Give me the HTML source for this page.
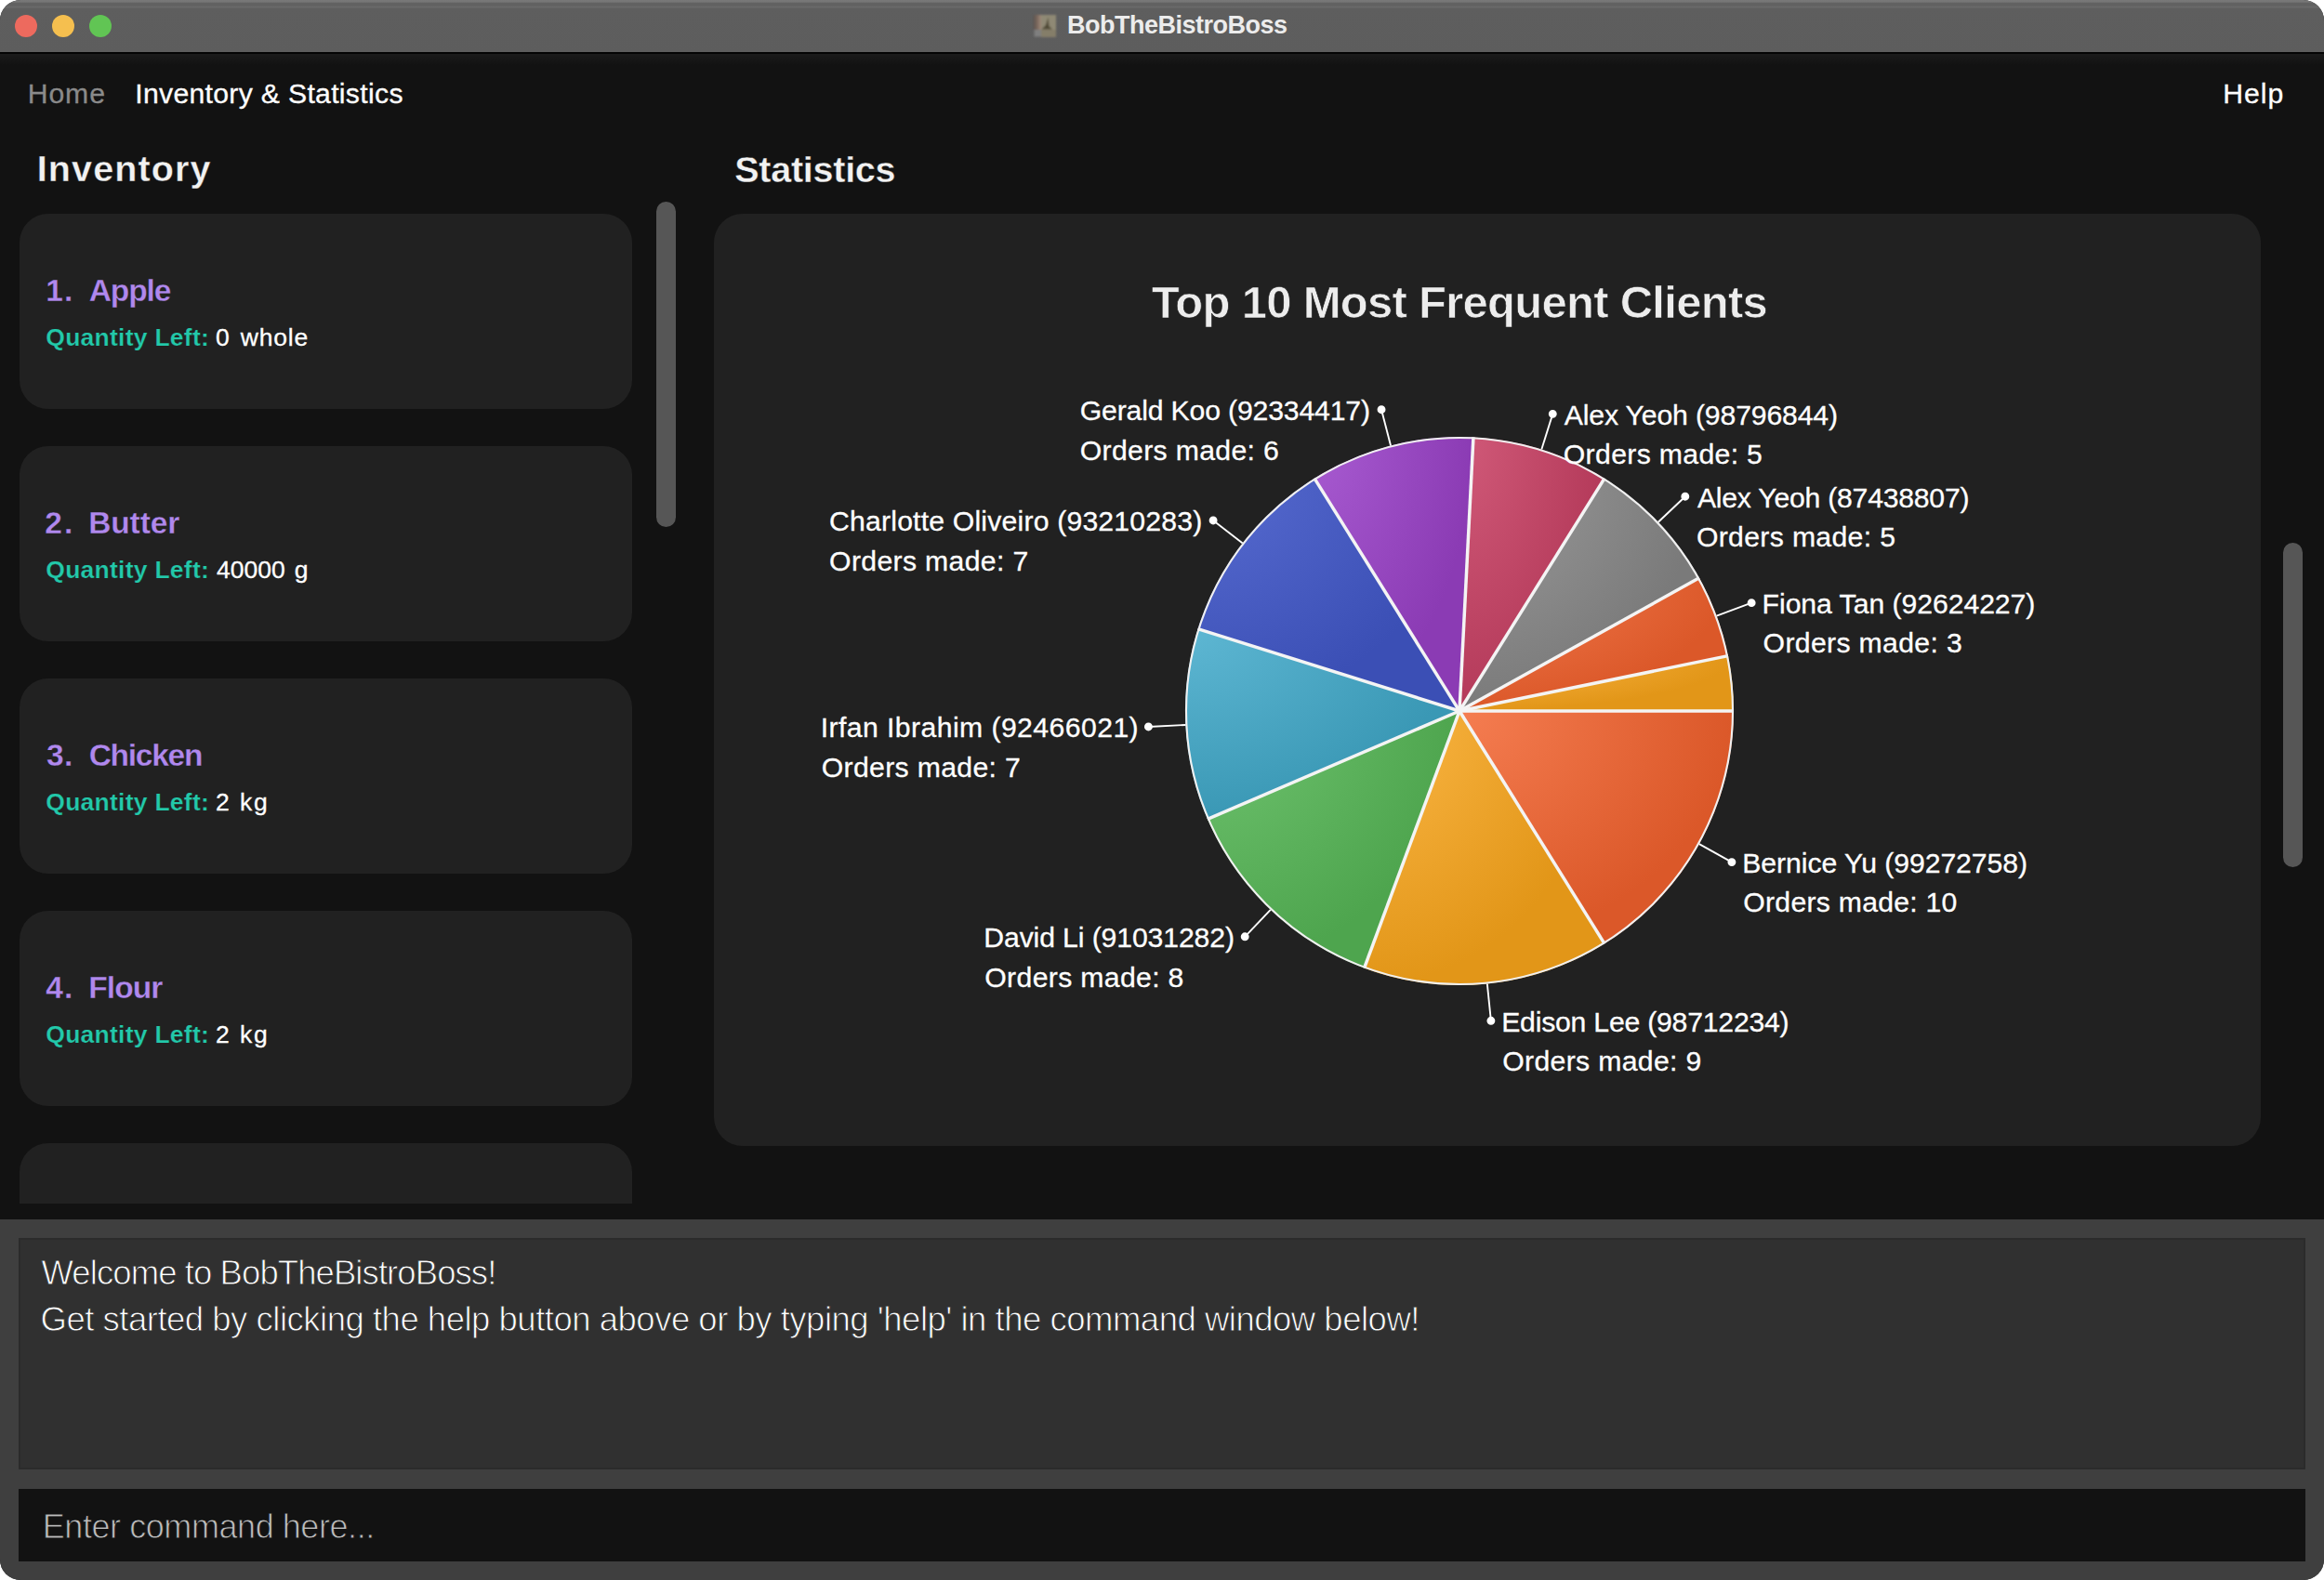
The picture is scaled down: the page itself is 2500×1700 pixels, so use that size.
<!DOCTYPE html>
<html><head><meta charset="utf-8"><title>BobTheBistroBoss</title>
<style>
html,body{margin:0;padding:0;background:#fff;}
body{width:2500px;height:1700px;position:relative;overflow:hidden;font-family:"Liberation Sans", sans-serif;}
.win{position:absolute;left:0;top:0;width:2500px;height:1700px;border-radius:22px;overflow:hidden;background:#121212;}
.tb{position:absolute;left:0;top:0;width:2500px;height:58px;background:linear-gradient(#787878 0,#767676 2px,#626262 3.5px,#616161 6px,#696969 7px,#686868 8px,#5e5e5e 9.5px,#5d5d5d 100%);border-bottom:2px solid #050505;box-sizing:border-box;}
.dot{position:absolute;top:16px;width:24px;height:24px;border-radius:50%;}
.ico{position:absolute;left:1108px;top:12px;}
.t{position:absolute;white-space:pre;}
.list{position:absolute;left:21px;top:230px;width:659px;height:1065px;overflow:hidden;}
.card{position:absolute;left:0;width:659px;height:210px;border-radius:31px;background:#212121;}
.thumb{position:absolute;width:21px;border-radius:10.5px;background:#565656;}
.stats{position:absolute;left:768px;top:230px;width:1663.5px;height:1003px;border-radius:31px;background:#212121;}
.bottom{position:absolute;left:0;top:1312px;width:2500px;height:388px;background:#3f3f3f;}
.res{position:absolute;left:20px;top:1332px;width:2460px;height:249px;background:#303030;box-sizing:border-box;border:2px solid #2b2b2b;}
.cmd{position:absolute;left:20px;top:1602px;width:2460px;height:78px;background:#121212;}
.pie{position:absolute;left:0;top:0;}
</style></head><body>
<div class="win">
<div class="tb">
<div class="dot" style="left:16px;background:#ed6a5e"></div>
<div class="dot" style="left:56px;background:#f5bf4f"></div>
<div class="dot" style="left:96px;background:#61c554"></div>
<svg class="ico" width="32" height="32" viewBox="1108 12 32 32"><defs><linearGradient id="ig" x1="0" x2="1" y1="0" y2="0"><stop offset="0" stop-color="#5b5450"/><stop offset="0.55" stop-color="#7d6a5e"/><stop offset="1" stop-color="#a18b7b"/></linearGradient><filter id="ib" x="-20%" y="-20%" width="140%" height="140%"><feGaussianBlur stdDeviation="0.9"/></filter></defs><g filter="url(#ib)"><rect x="1111.5" y="16" width="8.5" height="16" fill="url(#ig)"/><rect x="1112.5" y="32" width="7.5" height="7.5" fill="#7f7f7f"/><rect x="1120" y="16" width="16" height="23.8" fill="#8f8975"/><rect x="1120" y="32" width="16" height="7.8" fill="#857e69"/><path d="M1127.6 18.5 L1128.4 28 L1132 31.5 L1120.5 31.5 L1125 27 Z" fill="#4f4935"/></g></svg>
</div>
<div style="position:absolute;left:0;top:58px;width:2500px;height:12px;background:linear-gradient(#1b1b1b,#121212)"></div>
<div class="list"><div class="card" style="top:0px"></div><div class="card" style="top:250px"></div><div class="card" style="top:500px"></div><div class="card" style="top:750px"></div><div class="card" style="top:1000px"></div></div>
<div class="thumb" style="left:705.5px;top:217px;height:350px"></div>
<div class="stats"></div>
<div class="thumb" style="left:2456px;top:584px;height:349px"></div>
<svg class="pie" width="2500" height="1700" viewBox="0 0 2500 1700">
<defs><radialGradient id="g0" cx="0" cy="0" r="1" fx="0" fy="0"><stop offset="0" stop-color="#f57d51"/><stop offset="1" stop-color="#db5829"/></radialGradient><radialGradient id="g1" cx="0" cy="0" r="1" fx="0" fy="0"><stop offset="0" stop-color="#fcb848"/><stop offset="1" stop-color="#e29618"/></radialGradient><radialGradient id="g2" cx="0" cy="0" r="1" fx="0" fy="0"><stop offset="0" stop-color="#70c470"/><stop offset="1" stop-color="#4ea54e"/></radialGradient><radialGradient id="g3" cx="0" cy="0" r="1" fx="0" fy="0"><stop offset="0" stop-color="#5eb7d3"/><stop offset="1" stop-color="#3a98b5"/></radialGradient><radialGradient id="g4" cx="0" cy="0" r="1" fx="0" fy="0"><stop offset="0" stop-color="#586cd1"/><stop offset="1" stop-color="#3b4fb5"/></radialGradient><radialGradient id="g5" cx="0" cy="0" r="1" fx="0" fy="0"><stop offset="0" stop-color="#a85bd1"/><stop offset="1" stop-color="#8b3bb4"/></radialGradient><radialGradient id="g6" cx="0" cy="0" r="1" fx="0" fy="0"><stop offset="0" stop-color="#d15a79"/><stop offset="1" stop-color="#b43a5a"/></radialGradient><radialGradient id="g7" cx="0" cy="0" r="1" fx="0" fy="0"><stop offset="0" stop-color="#9d9d9d"/><stop offset="1" stop-color="#7a7a7a"/></radialGradient><radialGradient id="g8" cx="0" cy="0" r="1" fx="0" fy="0"><stop offset="0" stop-color="#f57d51"/><stop offset="1" stop-color="#db5829"/></radialGradient><radialGradient id="g9" cx="0" cy="0" r="1" fx="0" fy="0"><stop offset="0" stop-color="#fcb848"/><stop offset="1" stop-color="#e29618"/></radialGradient></defs>
<g><path d="M1570.00 765.00 L1865.00 765.00 A295 295 0 0 1 1726.04 1015.35 Z" fill="url(#g0)"/><path d="M1570.00 765.00 L1726.04 1015.35 A295 295 0 0 1 1467.54 1041.64 Z" fill="url(#g1)"/><path d="M1570.00 765.00 L1467.54 1041.64 A295 295 0 0 1 1298.91 881.33 Z" fill="url(#g2)"/><path d="M1570.00 765.00 L1298.91 881.33 A295 295 0 0 1 1288.53 676.69 Z" fill="url(#g3)"/><path d="M1570.00 765.00 L1288.53 676.69 A295 295 0 0 1 1413.96 514.65 Z" fill="url(#g4)"/><path d="M1570.00 765.00 L1413.96 514.65 A295 295 0 0 1 1584.94 470.38 Z" fill="url(#g5)"/><path d="M1570.00 765.00 L1584.94 470.38 A295 295 0 0 1 1726.04 514.65 Z" fill="url(#g6)"/><path d="M1570.00 765.00 L1726.04 514.65 A295 295 0 0 1 1827.93 621.84 Z" fill="url(#g7)"/><path d="M1570.00 765.00 L1827.93 621.84 A295 295 0 0 1 1858.96 705.62 Z" fill="url(#g8)"/><path d="M1570.00 765.00 L1858.96 705.62 A295 295 0 0 1 1865.00 765.00 Z" fill="url(#g9)"/></g>
<g stroke="#f4f4f4" stroke-width="3.5" stroke-linecap="butt"><line x1="1570" y1="765" x2="1865.00" y2="765.00"/><line x1="1570" y1="765" x2="1726.04" y2="1015.35"/><line x1="1570" y1="765" x2="1467.54" y2="1041.64"/><line x1="1570" y1="765" x2="1298.91" y2="881.33"/><line x1="1570" y1="765" x2="1288.53" y2="676.69"/><line x1="1570" y1="765" x2="1413.96" y2="514.65"/><line x1="1570" y1="765" x2="1584.94" y2="470.38"/><line x1="1570" y1="765" x2="1726.04" y2="514.65"/><line x1="1570" y1="765" x2="1827.93" y2="621.84"/><line x1="1570" y1="765" x2="1858.96" y2="705.62"/></g>
<circle cx="1570" cy="765" r="294.0" fill="none" stroke="#f0f0f0" stroke-width="2.1"/>
<g stroke="#fff" stroke-width="1.9" fill="#fff"><line x1="1827.93" y1="908.16" x2="1862.91" y2="927.58"/><circle cx="1862.91" cy="927.58" r="3.5"/><line x1="1599.84" y1="1058.49" x2="1603.89" y2="1098.28"/><circle cx="1603.89" cy="1098.28" r="3.5"/><line x1="1366.75" y1="978.81" x2="1339.20" y2="1007.81"/><circle cx="1339.20" cy="1007.81" r="3.5"/><line x1="1275.38" y1="779.94" x2="1235.43" y2="781.97"/><circle cx="1235.43" cy="781.97" r="3.5"/><line x1="1336.72" y1="584.43" x2="1305.09" y2="559.94"/><circle cx="1305.09" cy="559.94" r="3.5"/><line x1="1496.06" y1="479.42" x2="1486.03" y2="440.69"/><circle cx="1486.03" cy="440.69" r="3.5"/><line x1="1658.31" y1="483.53" x2="1670.29" y2="445.36"/><circle cx="1670.29" cy="445.36" r="3.5"/><line x1="1783.81" y1="561.75" x2="1812.81" y2="534.20"/><circle cx="1812.81" cy="534.20" r="3.5"/><line x1="1846.64" y1="662.54" x2="1884.15" y2="648.65"/><circle cx="1884.15" cy="648.65" r="3.5"/></g>
</svg>
<div class="bottom"></div>
<div class="res"></div>
<div class="cmd"></div>
<div class="t" style="left:1148.00px;top:14.34px;font-size:27px;line-height:27px;color:#ececec;font-weight:700;letter-spacing:-0.500px;">BobTheBistroBoss</div>
<div class="t" style="left:29.70px;top:86.24px;font-size:30.2px;line-height:30.2px;color:#8a8a8a;-webkit-text-stroke:0.3px #8a8a8a;letter-spacing:0.921px;">Home</div>
<div class="t" style="left:145.20px;top:86.24px;font-size:30.2px;line-height:30.2px;color:#fff;-webkit-text-stroke:0.3px #fff;letter-spacing:0.306px;">Inventory &amp; Statistics</div>
<div class="t" style="left:2391.30px;top:86.24px;font-size:30.2px;line-height:30.2px;color:#fff;-webkit-text-stroke:0.3px #fff;letter-spacing:0.935px;">Help</div>
<div class="t" style="left:39.80px;top:162.06px;font-size:39.5px;line-height:39.5px;color:#f2f2f2;font-weight:700;-webkit-text-stroke:0.36px #121212;letter-spacing:1.097px;">Inventory</div>
<div class="t" style="left:790.20px;top:162.56px;font-size:39.5px;line-height:39.5px;color:#f2f2f2;font-weight:700;-webkit-text-stroke:0.36px #121212;letter-spacing:-0.251px;">Statistics</div>
<div class="t" style="left:1238.80px;top:301.12px;font-size:49px;line-height:49px;color:#ededed;font-weight:700;-webkit-text-stroke:0.69px #212121;letter-spacing:-0.721px;">Top 10 Most Frequent Clients</div>
<div class="t" style="left:49.20px;top:295.64px;font-size:33.5px;line-height:33.5px;color:#b088ee;font-weight:700;-webkit-text-stroke:0.30px #212121;letter-spacing:1.069px;">1.</div>
<div class="t" style="left:95.70px;top:295.64px;font-size:33.5px;line-height:33.5px;color:#b088ee;font-weight:700;-webkit-text-stroke:0.30px #212121;letter-spacing:-1.082px;">Apple</div>
<div class="t" style="left:49.30px;top:349.77px;font-size:26.5px;line-height:26.5px;color:#22c9aa;font-weight:700;-webkit-text-stroke:0.24px #212121;letter-spacing:0.253px;">Quantity Left:</div>
<div class="t" style="left:232.00px;top:349.77px;font-size:26.5px;line-height:26.5px;color:#fff;-webkit-text-stroke:0.3px #fff;">0</div>
<div class="t" style="left:258.70px;top:349.77px;font-size:26.5px;line-height:26.5px;color:#fff;-webkit-text-stroke:0.3px #fff;letter-spacing:0.850px;">whole</div>
<div class="t" style="left:48.30px;top:545.64px;font-size:33.5px;line-height:33.5px;color:#b088ee;font-weight:700;-webkit-text-stroke:0.30px #212121;letter-spacing:1.969px;">2.</div>
<div class="t" style="left:95.20px;top:545.64px;font-size:33.5px;line-height:33.5px;color:#b088ee;font-weight:700;-webkit-text-stroke:0.30px #212121;letter-spacing:-0.120px;">Butter</div>
<div class="t" style="left:49.30px;top:599.77px;font-size:26.5px;line-height:26.5px;color:#22c9aa;font-weight:700;-webkit-text-stroke:0.24px #212121;letter-spacing:0.253px;">Quantity Left:</div>
<div class="t" style="left:233.00px;top:599.77px;font-size:26.5px;line-height:26.5px;color:#fff;-webkit-text-stroke:0.3px #fff;letter-spacing:0.012px;">40000</div>
<div class="t" style="left:316.70px;top:599.77px;font-size:26.5px;line-height:26.5px;color:#fff;-webkit-text-stroke:0.3px #fff;">g</div>
<div class="t" style="left:49.90px;top:795.64px;font-size:33.5px;line-height:33.5px;color:#b088ee;font-weight:700;-webkit-text-stroke:0.30px #212121;letter-spacing:0.369px;">3.</div>
<div class="t" style="left:95.70px;top:795.64px;font-size:33.5px;line-height:33.5px;color:#b088ee;font-weight:700;-webkit-text-stroke:0.30px #212121;letter-spacing:-1.259px;">Chicken</div>
<div class="t" style="left:49.30px;top:849.77px;font-size:26.5px;line-height:26.5px;color:#22c9aa;font-weight:700;-webkit-text-stroke:0.24px #212121;letter-spacing:0.253px;">Quantity Left:</div>
<div class="t" style="left:232.00px;top:849.77px;font-size:26.5px;line-height:26.5px;color:#fff;-webkit-text-stroke:0.3px #fff;">2</div>
<div class="t" style="left:258.00px;top:849.77px;font-size:26.5px;line-height:26.5px;color:#fff;-webkit-text-stroke:0.3px #fff;letter-spacing:1.750px;">kg</div>
<div class="t" style="left:49.30px;top:1045.64px;font-size:33.5px;line-height:33.5px;color:#b088ee;font-weight:700;-webkit-text-stroke:0.30px #212121;letter-spacing:0.969px;">4.</div>
<div class="t" style="left:95.30px;top:1045.64px;font-size:33.5px;line-height:33.5px;color:#b088ee;font-weight:700;-webkit-text-stroke:0.30px #212121;letter-spacing:-0.924px;">Flour</div>
<div class="t" style="left:49.30px;top:1099.77px;font-size:26.5px;line-height:26.5px;color:#22c9aa;font-weight:700;-webkit-text-stroke:0.24px #212121;letter-spacing:0.253px;">Quantity Left:</div>
<div class="t" style="left:232.00px;top:1099.77px;font-size:26.5px;line-height:26.5px;color:#fff;-webkit-text-stroke:0.3px #fff;">2</div>
<div class="t" style="left:258.00px;top:1099.77px;font-size:26.5px;line-height:26.5px;color:#fff;-webkit-text-stroke:0.3px #fff;letter-spacing:1.750px;">kg</div>
<div class="t" style="left:1874.30px;top:913.91px;font-size:30.2px;line-height:30.2px;color:#fff;-webkit-text-stroke:0.3px #fff;letter-spacing:-0.077px;">Bernice Yu (99272758)</div>
<div class="t" style="left:1875.30px;top:956.41px;font-size:30.2px;line-height:30.2px;color:#fff;-webkit-text-stroke:0.3px #fff;letter-spacing:0.256px;">Orders made: 10</div>
<div class="t" style="left:1615.20px;top:1084.62px;font-size:30.2px;line-height:30.2px;color:#fff;-webkit-text-stroke:0.3px #fff;letter-spacing:-0.220px;">Edison Lee (98712234)</div>
<div class="t" style="left:1616.20px;top:1127.12px;font-size:30.2px;line-height:30.2px;color:#fff;-webkit-text-stroke:0.3px #fff;letter-spacing:0.336px;">Orders made: 9</div>
<div class="t" style="left:1058.30px;top:994.14px;font-size:30.2px;line-height:30.2px;color:#fff;-webkit-text-stroke:0.3px #fff;letter-spacing:-0.123px;">David Li (91031282)</div>
<div class="t" style="left:1059.30px;top:1036.64px;font-size:30.2px;line-height:30.2px;color:#fff;-webkit-text-stroke:0.3px #fff;letter-spacing:0.336px;">Orders made: 8</div>
<div class="t" style="left:882.70px;top:768.30px;font-size:30.2px;line-height:30.2px;color:#fff;-webkit-text-stroke:0.3px #fff;letter-spacing:0.422px;">Irfan Ibrahim (92466021)</div>
<div class="t" style="left:883.70px;top:810.80px;font-size:30.2px;line-height:30.2px;color:#fff;-webkit-text-stroke:0.3px #fff;letter-spacing:0.336px;">Orders made: 7</div>
<div class="t" style="left:892.10px;top:546.28px;font-size:30.2px;line-height:30.2px;color:#fff;-webkit-text-stroke:0.3px #fff;letter-spacing:0.184px;">Charlotte Oliveiro (93210283)</div>
<div class="t" style="left:892.10px;top:588.78px;font-size:30.2px;line-height:30.2px;color:#fff;-webkit-text-stroke:0.3px #fff;letter-spacing:0.336px;">Orders made: 7</div>
<div class="t" style="left:1161.70px;top:427.03px;font-size:30.2px;line-height:30.2px;color:#fff;-webkit-text-stroke:0.3px #fff;letter-spacing:-0.158px;">Gerald Koo (92334417)</div>
<div class="t" style="left:1161.70px;top:469.53px;font-size:30.2px;line-height:30.2px;color:#fff;-webkit-text-stroke:0.3px #fff;letter-spacing:0.336px;">Orders made: 6</div>
<div class="t" style="left:1682.80px;top:431.70px;font-size:30.2px;line-height:30.2px;color:#fff;-webkit-text-stroke:0.3px #fff;letter-spacing:-0.152px;">Alex Yeoh (98796844)</div>
<div class="t" style="left:1681.80px;top:474.20px;font-size:30.2px;line-height:30.2px;color:#fff;-webkit-text-stroke:0.3px #fff;letter-spacing:0.336px;">Orders made: 5</div>
<div class="t" style="left:1825.90px;top:520.53px;font-size:30.2px;line-height:30.2px;color:#fff;-webkit-text-stroke:0.3px #fff;letter-spacing:-0.236px;">Alex Yeoh (87438807)</div>
<div class="t" style="left:1824.90px;top:563.03px;font-size:30.2px;line-height:30.2px;color:#fff;-webkit-text-stroke:0.3px #fff;letter-spacing:0.336px;">Orders made: 5</div>
<div class="t" style="left:1895.60px;top:634.99px;font-size:30.2px;line-height:30.2px;color:#fff;-webkit-text-stroke:0.3px #fff;letter-spacing:-0.054px;">Fiona Tan (92624227)</div>
<div class="t" style="left:1896.60px;top:677.49px;font-size:30.2px;line-height:30.2px;color:#fff;-webkit-text-stroke:0.3px #fff;letter-spacing:0.336px;">Orders made: 3</div>
<div class="t" style="left:44.50px;top:1352.10px;font-size:36.5px;line-height:36.5px;color:#ffffff;-webkit-text-stroke:0.88px #303030;letter-spacing:-0.917px;">Welcome to BobTheBistroBoss!</div>
<div class="t" style="left:43.50px;top:1401.60px;font-size:36.5px;line-height:36.5px;color:#ffffff;-webkit-text-stroke:0.88px #303030;letter-spacing:-0.491px;">Get started by clicking the help button above or by typing 'help' in the command window below!</div>
<div class="t" style="left:45.80px;top:1624.53px;font-size:36px;line-height:36px;color:#bdbdbd;-webkit-text-stroke:0.86px #121212;letter-spacing:-0.438px;">Enter command here...</div>
</div>
</body></html>
